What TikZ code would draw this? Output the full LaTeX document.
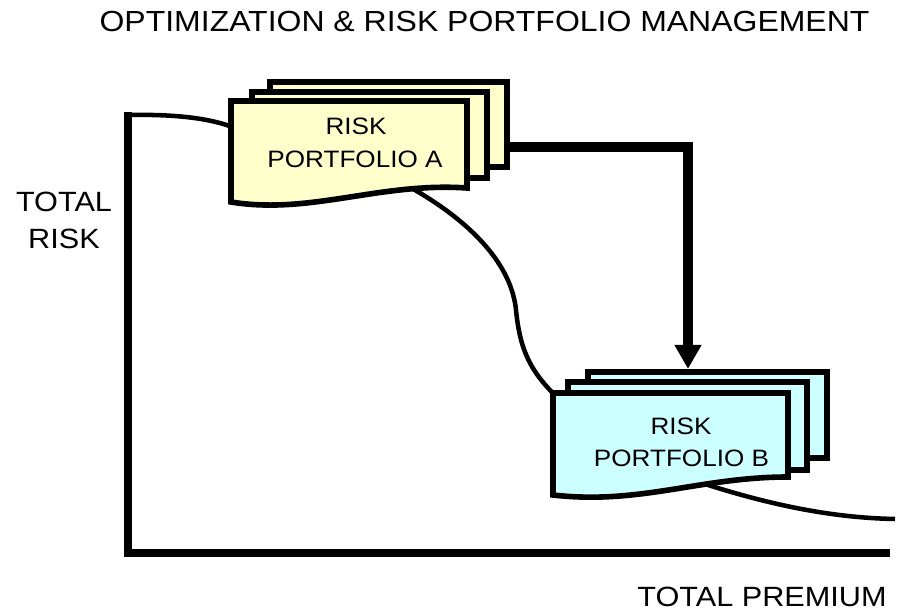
\documentclass[tikz,border=0pt]{standalone}
\usepackage{fontspec}
\setmainfont{Liberation Sans}[FakeStretch=1.1]
\usetikzlibrary{arrows.meta}
\definecolor{paleyellow}{HTML}{FFFFCC}
\definecolor{palecyan}{HTML}{CCFFFF}
\begin{document}
\begin{tikzpicture}[x=0.75pt,y=-0.75pt,
  page/.style={draw=black,line width=4.2pt,line join=miter},
  backpage/.style={page,rectangle,inner sep=0pt,outer sep=0pt},
  axisline/.style={line width=6pt},
  riskcurve/.style={line width=3.4pt},
  flow/.style={line width=7pt,line join=miter,-{Triangle[length=18pt,width=19pt]}},
  lbl/.style={anchor=base,inner sep=0pt},
  ttl/.style={lbl,font=\fontsize{21.8pt}{26pt}\selectfont},
  axl/.style={lbl,font=\fontsize{20.9pt}{25pt}\selectfont},
  pfl/.style={lbl,font=\fontsize{17.8pt}{21pt}\selectfont}]
\path[use as bounding box] (0,0) rectangle (897,616);

% risk curve (behind the portfolios)
\draw[riskcurve] (128,115) .. controls (180,114) and (215,119) .. (240,130)
  .. controls (300,150) and (370,165) .. (415,190)
  .. controls (480,228) and (512,270) .. (516,310)
  .. controls (520,350) and (530,372) .. (560,400)
  .. controls (620,430) and (670,470) .. (705,484)
  .. controls (780,508) and (840,518) .. (895,519);

% axes
\draw[axisline] (128,112) -- (128,557);
\draw[axisline] (125,553) -- (890,553);

% portfolio A
\node[backpage,fill=paleyellow,minimum width=177.75pt,minimum height=63.75pt] (A3) at (388.5,124.5) {};
\node[backpage,fill=paleyellow,minimum width=176.25pt,minimum height=64.5pt] (A2) at (369.5,135) {};
\path[page,fill=paleyellow] (231,101) -- (467,101) -- (467,188)
  .. controls (380,182) and (310,215) .. (231,202) -- cycle;

% portfolio B
\node[backpage,fill=palecyan,minimum width=179.25pt,minimum height=64.5pt] (B3) at (707.5,415) {};
\node[backpage,fill=palecyan,minimum width=179.25pt,minimum height=66pt] (B2) at (687.5,426) {};
\path[page,fill=palecyan] (553,393) -- (788,393) -- (788,477)
  .. controls (700,477) and (640,505) .. (553,495) -- cycle;

% arrow A -> B
\coordinate (aout) at (505,147);
\coordinate (bin) at (688,369);
\draw[flow] (aout) -| (bin);

% texts
\node[ttl] (title) at (484.5,32) {OPTIMIZATION \& RISK PORTFOLIO MANAGEMENT};
\node[axl] (tr1) at (64,212) {TOTAL};
\node[axl] (tr2) at (64,249) {RISK};
\node[axl] (tp) at (762,607) {TOTAL PREMIUM};
\node[pfl] (a1) at (356,135) {RISK};
\node[pfl] (a2) at (355,168) {PORTFOLIO A};
\node[pfl] (b1) at (681,435) {RISK};
\node[pfl] (b2) at (681.5,467) {PORTFOLIO B};
\end{tikzpicture}
\end{document}
